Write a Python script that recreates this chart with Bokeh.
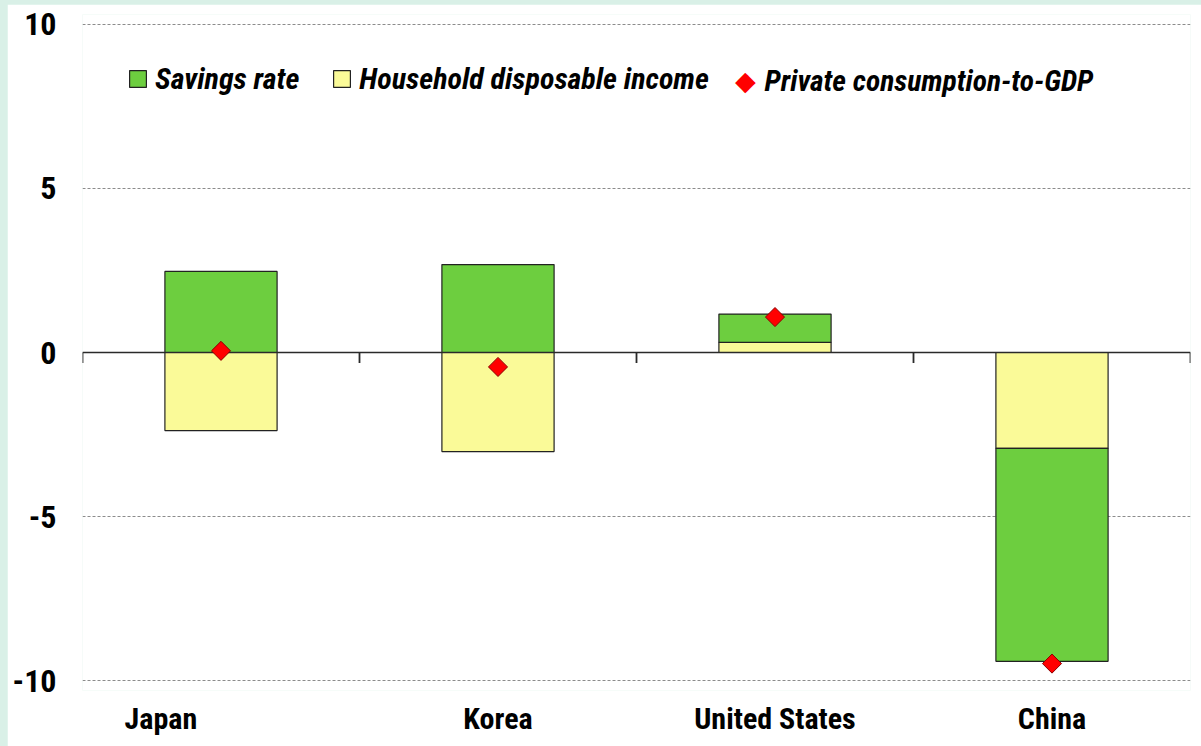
import math
from bokeh.plotting import figure
from bokeh.models import (ColumnDataSource, Range1d, FixedTicker, Legend, LegendItem, Label)
from bokeh.embed import file_html
from bokeh.resources import INLINE

# ---- data ----
categories = ["Japan", "Korea", "United States", "China"]
savings_rate = [2.47, 2.68, 0.86, -6.49]
household_income = [-2.38, -3.02, 0.31, -2.92]
consumption_to_gdp = [0.05, -0.44, 1.08, -9.48]
y_ticks = [-10, -5, 0, 5, 10]
y_tick_labels = ["-10", "-5", "0", "5", "10"]
grid_ticks = [-10, -5, 5, 10]
series_names = ["Savings rate", "Household disposable income", "Private consumption-to-GDP"]

# label placement (style): the reference sets the first category label left of its bar
label_shift = [-0.217, 0.0, 0.0, 0.0]

# ---- stacking (household closest to zero, savings next) ----
xs = [i + 0.5 for i in range(len(categories))]
hh_bottom, hh_top, sv_bottom, sv_top = [], [], [], []
for h, s in zip(household_income, savings_rate):
    hh_bottom.append(0.0)
    hh_top.append(h)
    base = h if (h >= 0) == (s >= 0) else 0.0
    sv_bottom.append(base)
    sv_top.append(base + s)

src = ColumnDataSource(dict(x=xs, hb=hh_bottom, ht=hh_top, sb=sv_bottom, st=sv_top,
                            c=consumption_to_gdp))

FONT = "Roboto Condensed, DejaVu Sans Condensed, sans-serif"

p = figure(width=1194, height=742, output_backend="svg", toolbar_location=None,
           x_range=Range1d(0, len(categories)), y_range=Range1d(-10.3, 10.3),
           min_border_left=75, min_border_right=11, min_border_top=10, min_border_bottom=56)
p.outline_line_color = None
p.background_fill_color = "white"
p.border_fill_color = "white"

GREEN = "#6dce3f"
YELLOW = "#fafa98"

r_hh = p.vbar(x="x", bottom="hb", top="ht", width=0.405, source=src,
              fill_color=YELLOW, line_color="#222222", line_width=1.2)
r_sv = p.vbar(x="x", bottom="sb", top="st", width=0.405, source=src,
              fill_color=GREEN, line_color="#222222", line_width=1.2)

# zero line (over the bars, under the diamonds) and category boundary ticks
p.hspan(y=[0], line_color="#2a2a2a", line_width=1.6)
bounds = list(range(len(categories) + 1))
p.segment(x0=bounds, x1=bounds, y0=[0] * len(bounds), y1=[-0.32] * len(bounds),
          line_color="#2a2a2a", line_width=1.8)

r_c = p.scatter(x="x", y="c", source=src, marker="square", size=13.5, angle=math.pi / 4,
                fill_color="#ff0000", line_color="#8b0000", line_width=1)

# axes
label_pos = [x + d for x, d in zip(xs, label_shift)]
p.xaxis.ticker = FixedTicker(ticks=label_pos)
p.xaxis.major_label_overrides = {x: c for x, c in zip(label_pos, categories)}
p.xaxis.axis_line_color = None
p.xaxis.major_tick_line_color = None
p.xaxis.major_tick_out = 0
p.xaxis.major_tick_in = 0
p.xaxis.minor_tick_line_color = None
p.xaxis.major_label_text_font = FONT
p.xaxis.major_label_text_font_style = "bold"
p.xaxis.major_label_text_font_size = "30px"
p.xaxis.major_label_text_color = "black"
p.xaxis.major_label_standoff = 10

p.yaxis.ticker = FixedTicker(ticks=y_ticks)
p.yaxis.major_label_overrides = {t: s for t, s in zip(y_ticks, y_tick_labels)}
p.yaxis.axis_line_color = None
p.yaxis.major_tick_line_color = None
p.yaxis.major_tick_out = 0
p.yaxis.major_tick_in = 0
p.yaxis.minor_tick_line_color = None
p.yaxis.major_label_text_font = FONT
p.yaxis.major_label_text_font_style = "bold"
p.yaxis.major_label_text_font_size = "32px"
p.yaxis.major_label_text_color = "black"
p.yaxis.major_label_standoff = 26

p.xgrid.grid_line_color = None
p.ygrid.ticker = FixedTicker(ticks=grid_ticks)
p.ygrid.grid_line_color = "#8c8c8c"
p.ygrid.grid_line_dash = "3 2"
p.ygrid.grid_line_width = 1

# legend (bars)
leg1 = Legend(items=[LegendItem(label=series_names[0], renderers=[r_sv]),
                     LegendItem(label=series_names[1], renderers=[r_hh])],
              orientation="horizontal", location=(45, 594))
leg1.glyph_width = 21
leg1.glyph_height = 21
leg1.padding = 0
leg1.margin = 0
leg1.spacing = 32
leg1.label_standoff = 7
leg1.border_line_color = None
leg1.background_fill_alpha = 0
leg1.label_text_font = FONT
leg1.label_text_font_style = "bold italic"
leg1.label_text_font_size = "30px"
leg1.label_text_color = "black"
p.add_layout(leg1, "center")

# legend entry for the diamond series (rotated-square key)
p.add_layout(Label(x=663, y=610, x_units="screen", y_units="screen", text="\u25c6",
                   text_font="DejaVu Sans", text_font_size="27px", text_color="#ff0000",
                   text_align="center", text_baseline="middle"))
p.add_layout(Label(x=682, y=610, x_units="screen", y_units="screen", text=series_names[2],
                   text_font=FONT, text_font_style="bold italic", text_font_size="29.5px",
                   text_color="black", text_align="left", text_baseline="middle"))

html = file_html(p, INLINE)
html = html.replace("</head>", "<style>body{padding:4px 0 0 7px !important;background:#d9f0e7 !important;}</style></head>", 1)
open("out.html", "w").write(html)
